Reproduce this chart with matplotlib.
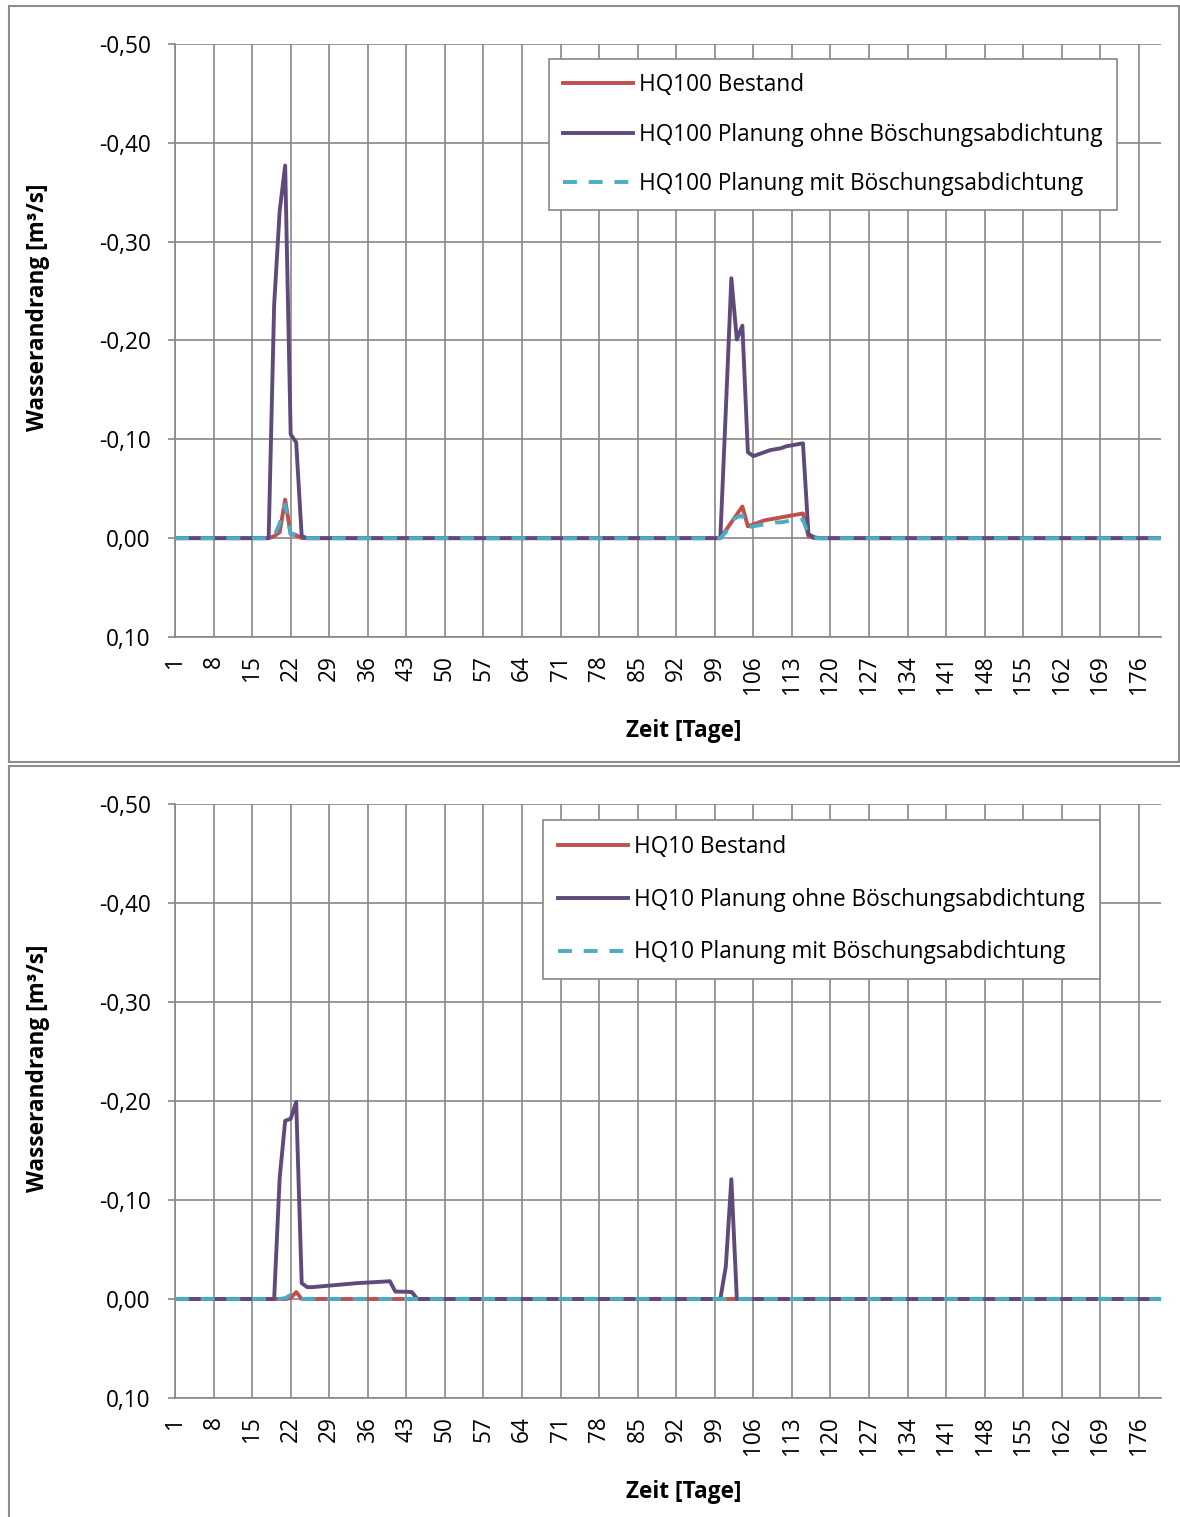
import numpy as np
import matplotlib
matplotlib.use("Agg")
import matplotlib.pyplot as plt
from matplotlib.patches import Rectangle

plt.rcParams['font.family'] = ['Open Sans', 'DejaVu Sans']
plt.rcParams['lines.scale_dashes'] = False

# ---------------- data ----------------
days = list(range(1, 181))
xticks = list(range(1, 181, 7))
yticks = [-0.5, -0.4, -0.3, -0.2, -0.1, 0.0, 0.1]

# HQ100 (non-zero stretches, all other days are 0)
hq100_bestand = {19: -0.002, 20: -0.006, 21: -0.039, 22: -0.004, 23: -0.003,
                 101: -0.008, 102: -0.016, 103: -0.024, 104: -0.032, 105: -0.012,
                 106: -0.014, 107: -0.016, 108: -0.018, 109: -0.019, 110: -0.020,
                 111: -0.021, 112: -0.022, 113: -0.023, 114: -0.024, 115: -0.025,
                 116: -0.002}
hq100_ohne = {19: -0.236, 20: -0.331, 21: -0.377, 22: -0.105, 23: -0.097, 24: -0.002,
              101: -0.130, 102: -0.263, 103: -0.201, 104: -0.215, 105: -0.087,
              106: -0.083, 107: -0.085, 108: -0.087, 109: -0.089, 110: -0.090,
              111: -0.091, 112: -0.093, 113: -0.094, 114: -0.095, 115: -0.096,
              116: -0.004, 117: -0.001}
hq100_mit = {19: -0.002, 20: -0.015, 21: -0.034, 22: -0.004, 23: -0.004,
             101: -0.006, 102: -0.018, 103: -0.021, 104: -0.023, 105: -0.011,
             106: -0.012, 107: -0.013, 108: -0.014, 109: -0.015, 110: -0.016,
             111: -0.016, 112: -0.017, 113: -0.018, 114: -0.018, 115: -0.019,
             116: -0.003}

# HQ10
hq10_bestand = {22: -0.001, 23: -0.007}
hq10_ohne = {20: -0.122, 21: -0.180, 22: -0.182, 23: -0.199, 24: -0.016, 25: -0.012,
             26: -0.012, 27: -0.0125, 28: -0.013, 29: -0.0135, 30: -0.014,
             31: -0.0145, 32: -0.015, 33: -0.0155, 34: -0.016, 35: -0.0163,
             36: -0.0166, 37: -0.017, 38: -0.0173, 39: -0.0176, 40: -0.018,
             41: -0.0075, 42: -0.0074, 43: -0.0073, 44: -0.007,
             101: -0.033, 102: -0.121}
hq10_mit = {21: -0.001, 22: -0.004}

labels_hq100 = ["HQ100 Bestand", "HQ100 Planung ohne Böschungsabdichtung",
                "HQ100 Planung mit Böschungsabdichtung"]
labels_hq10 = ["HQ10 Bestand", "HQ10 Planung ohne Böschungsabdichtung",
               "HQ10 Planung mit Böschungsabdichtung"]

RED = '#C0504D'
PURPLE = '#604A7B'
CYAN = '#4BACC6'
GRID = '#888888'
FS = 16.3

W, H = 1180, 1517


def series(d):
    return [d.get(day, 0.0) for day in days]


def fmt(v):
    s = f"{v:.2f}".replace('.', ',')
    if s == "-0,00":
        s = "0,00"
    return s


fig = plt.figure(figsize=(W / 100, H / 100), dpi=100)

# outer frames
fig.patches.append(Rectangle((8.5 / W, 1 - 762 / H), (1179 - 8.5) / W, (762 - 6) / H,
                             transform=fig.transFigure, fill=False,
                             edgecolor='#8c8c8c', linewidth=1.5))
fig.patches.append(Rectangle((9 / W, 1 - 1530 / H), (1190 - 9) / W, (1530 - 766) / H,
                             transform=fig.transFigure, fill=False,
                             edgecolor='#8c8c8c', linewidth=1.5))


def panel(top_px, bottom_px, bes, ohne, mit, labels, leg_left_px, leg_top_px,
          labelspacing, borderpad, ylab_y, xlab_y):
    ax = fig.add_axes([175 / W, 1 - bottom_px / H, (1161 - 175) / W,
                       (bottom_px - top_px) / H])
    ax.plot(days, series(bes), color=RED, lw=2.8, zorder=3, label=labels[0],
            solid_joinstyle='round')
    ax.plot(days, series(ohne), color=PURPLE, lw=2.8, zorder=4, label=labels[1],
            solid_joinstyle='round')
    ax.plot(days, series(mit), color=CYAN, lw=2.8, zorder=5, label=labels[2],
            dashes=(10, 8.5))
    ax.set_xlim(1, 180)
    ax.set_ylim(0.1, -0.5)
    ax.set_xticks(xticks)
    ax.set_xticklabels([str(t) for t in xticks], rotation=90, fontsize=FS)
    ax.set_yticks(yticks)
    ax.set_yticklabels([fmt(v) for v in yticks], fontsize=FS)
    ax.tick_params(axis='x', length=0, pad=13)
    ax.tick_params(axis='y', length=5, width=1.2, color=GRID, pad=12.5)
    ax.grid(True, color=GRID, linewidth=1.2)
    ax.set_axisbelow(True)
    for s in ['top', 'right']:
        ax.spines[s].set_visible(False)
    for s in ['left', 'bottom']:
        ax.spines[s].set_color(GRID)
        ax.spines[s].set_linewidth(1.2)
    x0 = (leg_left_px - 175) / (1161 - 175)
    y0 = (bottom_px - leg_top_px) / (bottom_px - top_px)
    leg = ax.legend(loc='upper left', bbox_to_anchor=(x0, y0), borderaxespad=0,
                    fontsize=FS, frameon=True, fancybox=False, framealpha=1,
                    edgecolor=GRID, handlelength=3.1, handletextpad=0.27,
                    labelspacing=labelspacing, borderpad=borderpad)
    leg.get_frame().set_linewidth(1.2)
    fig.text(38 / W, 1 - ylab_y / H, "Wasserandrang [m³/s]", rotation=90,
             ha='center', va='center', fontsize=FS, fontweight='bold')
    fig.text(684 / W, 1 - xlab_y / H, "Zeit [Tage]", ha='center', va='center',
             fontsize=FS, fontweight='bold')
    return ax


panel(44, 637, hq100_bestand, hq100_ohne, hq100_mit, labels_hq100, 549, 59, 1.13,
      0.62, 307, 731)
panel(804, 1398, hq10_bestand, hq10_ohne, hq10_mit, labels_hq10, 543, 820, 1.27,
      0.66, 1068, 1492)

fig.savefig("out.png", dpi=100)
